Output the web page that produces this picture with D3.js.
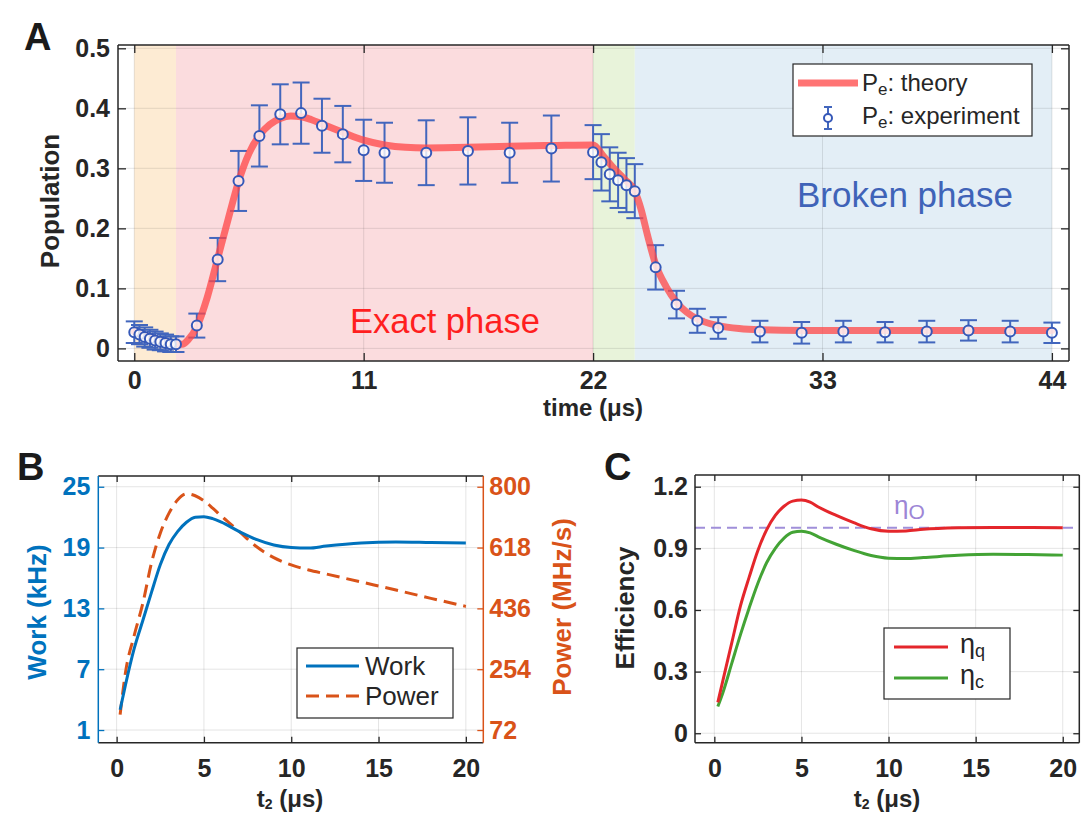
<!DOCTYPE html>
<html>
<head>
<meta charset="utf-8">
<style>
  body { margin: 0; background: #fff; }
  svg { display: block; font-family: "Liberation Sans", Arial, sans-serif; }
</style>
</head>
<body>
<svg id="fig" width="1081" height="814"></svg>
<script src="https://d3js.org/d3.v7.min.js"></script>
<script>
// ---------- data: panel A ----------
const phaseStart = [0, 2, 22, 24];
const phaseEnd = [2, 22, 24, 44];
const timeTicks = [0, 11, 22, 33, 44];
const popTicks = [0, 0.1, 0.2, 0.3, 0.4, 0.5];

const theoryT = [0, 0.5, 1, 1.5, 2, 2.3, 2.6, 3, 3.5, 4, 4.5, 5, 5.5, 6, 6.5, 7, 7.5, 8, 8.5, 9, 10, 11, 12, 13, 14, 16, 18, 20, 22,
  22.5, 23, 23.5, 24, 24.3, 24.6, 25, 25.5, 26, 26.5, 27, 28, 29, 30, 32, 36, 40, 44];
const theoryP = [0.028, 0.022, 0.016, 0.011, 0.007, 0.007, 0.015, 0.036, 0.085, 0.15, 0.215, 0.278, 0.325, 0.355, 0.373, 0.383, 0.387, 0.386, 0.381, 0.374, 0.36, 0.347, 0.339, 0.335, 0.334, 0.335, 0.337, 0.338, 0.339,
  0.32, 0.3, 0.282, 0.262, 0.232, 0.19, 0.14, 0.103, 0.077, 0.06, 0.049, 0.038, 0.033, 0.031, 0.03, 0.03, 0.03, 0.03];

const expT = [0, 0.25, 0.5, 0.75, 1, 1.25, 1.5, 1.75, 2, 3, 4, 5, 6, 7, 8, 9, 10, 11, 12, 14, 16, 18, 20,
  22, 22.4, 22.8, 23.2, 23.6, 24, 25, 26, 27, 28, 30, 32, 34, 36, 38, 40, 42, 44];
const expP = [0.027, 0.023, 0.019, 0.016, 0.013, 0.011, 0.009, 0.007, 0.007, 0.038, 0.148, 0.279, 0.354, 0.39, 0.392, 0.371, 0.357, 0.33, 0.326, 0.326, 0.329, 0.326, 0.333,
  0.327, 0.31, 0.29, 0.28, 0.272, 0.262, 0.135, 0.073, 0.046, 0.034, 0.028, 0.026, 0.028, 0.027, 0.028, 0.03, 0.028, 0.026];
const expErr = [0.018, 0.016, 0.016, 0.015, 0.015, 0.014, 0.014, 0.013, 0.013, 0.02, 0.036, 0.05, 0.051, 0.05, 0.051, 0.045, 0.047, 0.051, 0.05, 0.054, 0.056, 0.05, 0.055,
  0.045, 0.047, 0.045, 0.046, 0.045, 0.045, 0.037, 0.023, 0.02, 0.018, 0.018, 0.018, 0.018, 0.017, 0.018, 0.017, 0.018, 0.017];

// ---------- data: panel B ----------
const t2 = [0.2, 0.5, 1, 1.5, 2, 2.5, 3, 3.5, 4, 4.5, 5, 5.5, 6, 7, 8, 9, 10, 11, 12, 14, 16, 18, 20];
const work = [3.0, 5.4, 9.0, 11.8, 14.6, 17.3, 19.3, 20.6, 21.5, 22.0, 22.05, 21.85, 21.5, 20.6, 19.8, 19.25, 19.0, 18.95, 19.15, 19.45, 19.55, 19.5, 19.45];
const power = [118, 242, 354, 451, 573, 661, 721, 761, 779, 773, 758, 736, 712, 667, 621, 588, 566, 551, 539, 515, 491, 466, 442];
const t2Ticks = [0, 5, 10, 15, 20];
const workTicks = [1, 7, 13, 19, 25];
const powerTicks = [72, 254, 436, 618, 800];

// ---------- data: panel C ----------
const etaQ = [0.15, 0.26, 0.44, 0.62, 0.76, 0.89, 0.99, 1.06, 1.105, 1.13, 1.135, 1.125, 1.1, 1.06, 1.025, 0.995, 0.983, 0.985, 0.993, 1.0, 1.002, 1.001, 1.0];
const etaC = [0.13, 0.2, 0.34, 0.48, 0.61, 0.73, 0.83, 0.9, 0.95, 0.978, 0.983, 0.975, 0.955, 0.92, 0.89, 0.865, 0.852, 0.85, 0.855, 0.866, 0.871, 0.87, 0.867];
const etaO = 1.0;
const effTicks = [0, 0.3, 0.6, 0.9, 1.2];

// ---------- styles ----------
const phaseFill = ["#fdebd3", "#fbdcde", "#e8f3da", "#e3eef6"];
const axisInk = "#262626";
const blueW = "#0072bd", orangeP = "#d95319";
const theoryRed = "#ff4545";
const tickFont = 25, labelFont = 26;

const svg = d3.select("#fig");

function grid(g, x, y, xt, yt) {
  const [x0, x1] = x.range(), [y0, y1] = y.range();
  g.append("g").selectAll("line").data(xt).join("line")
    .attr("x1", d => x(d)).attr("x2", d => x(d)).attr("y1", y0).attr("y2", y1)
    .attr("stroke", axisInk).attr("stroke-opacity", 0.12).attr("stroke-width", 1);
  g.append("g").selectAll("line").data(yt).join("line")
    .attr("x1", x0).attr("x2", x1).attr("y1", d => y(d)).attr("y2", d => y(d))
    .attr("stroke", axisInk).attr("stroke-opacity", 0.12).attr("stroke-width", 1);
}

function styleAxis(sel, color, labels) {
  sel.select(".domain").remove();
  sel.attr("font-family", null).attr("font-size", null);
  sel.selectAll(".tick line").attr("stroke", color).attr("stroke-width", 1.3);
  sel.selectAll(".tick text")
    .attr("fill", color).attr("font-size", tickFont).attr("font-weight", "bold")
    .style("display", labels ? null : "none");
}

function axes(g, x, y, xt, yt, opt) {
  const [x0, x1] = x.range(), [yb, yt0] = y.range();
  const tl = opt.tick || 7;
  g.append("g").attr("transform", `translate(0,${yb})`)
    .call(d3.axisBottom(x).tickValues(xt).tickSize(-tl).tickPadding(opt.xpad).tickFormat(d3.format("")))
    .call(s => styleAxis(s, axisInk, true));
  g.append("g").attr("transform", `translate(0,${yt0})`)
    .call(d3.axisTop(x).tickValues(xt).tickSize(-tl))
    .call(s => styleAxis(s, axisInk, false));
  g.append("g").attr("transform", `translate(${x0},0)`)
    .call(d3.axisLeft(y).tickValues(yt).tickSize(-tl).tickPadding(opt.ypad).tickFormat(d3.format("")))
    .call(s => styleAxis(s, opt.leftColor || axisInk, true));
  if (!opt.noRight) {
    g.append("g").attr("transform", `translate(${x1},0)`)
      .call(d3.axisRight(y).tickValues(yt).tickSize(-tl))
      .call(s => styleAxis(s, axisInk, false));
  }
  // box
  const lw = 1.5;
  g.append("line").attr("x1", x0).attr("x2", x1).attr("y1", yt0).attr("y2", yt0).attr("stroke", axisInk).attr("stroke-width", lw);
  g.append("line").attr("x1", x0).attr("x2", x1).attr("y1", yb).attr("y2", yb).attr("stroke", axisInk).attr("stroke-width", lw);
  g.append("line").attr("x1", x0).attr("x2", x0).attr("y1", yt0).attr("y2", yb).attr("stroke", opt.leftColor || axisInk).attr("stroke-width", lw);
  g.append("line").attr("x1", x1).attr("x2", x1).attr("y1", yt0).attr("y2", yb).attr("stroke", opt.rightColor || axisInk).attr("stroke-width", lw);
}

function vlabel(g, x, y, color, txt) {
  g.append("text").attr("transform", `translate(${x},${y}) rotate(-90)`)
    .attr("text-anchor", "middle").attr("font-size", labelFont).attr("font-weight", "bold").attr("fill", color)
    .text(txt);
}

function t2label(g, x, y) {
  const t = g.append("text").attr("x", x).attr("y", y).attr("text-anchor", "middle")
    .attr("font-size", 24).attr("font-weight", "bold").attr("fill", axisInk);
  t.append("tspan").text("t");
  t.append("tspan").attr("font-size", 14).attr("dy", 2).text("2");
  t.append("tspan").attr("dy", -2).text(" (μs)");
}

function panelLetter(x, y, s) {
  svg.append("text").attr("x", x).attr("y", y).attr("font-size", 38).attr("font-weight", "bold")
    .attr("fill", "#1a1a1a").text(s);
}

// ================= Panel A =================
const xA = d3.scaleLinear().domain([-0.78, 44.82]).range([118, 1069]);
const yA = d3.scaleLinear().domain([-0.021, 0.5055]).range([361, 45]);
const gA = svg.append("g");

gA.append("g").selectAll("rect").data(phaseStart).join("rect")
  .attr("x", (d) => xA(d)).attr("width", (d, i) => xA(phaseEnd[i]) - xA(d))
  .attr("y", yA.range()[1]).attr("height", yA.range()[0] - yA.range()[1])
  .attr("fill", (d, i) => phaseFill[i]);

grid(gA, xA, yA, timeTicks, popTicks);

const expData = expT.map((t, i) => ({ t: t, p: expP[i], e: expErr[i] }));
const eb = gA.append("g").attr("stroke", "#4266bd").attr("stroke-width", 2);
eb.selectAll(".bar").data(expData).join("line").attr("class", "bar")
  .attr("x1", d => xA(d.t)).attr("x2", d => xA(d.t))
  .attr("y1", d => yA(d.p - d.e)).attr("y2", d => yA(d.p + d.e));
eb.selectAll(".capT").data(expData).join("line").attr("class", "capT")
  .attr("x1", d => xA(d.t) - 8.5).attr("x2", d => xA(d.t) + 8.5)
  .attr("y1", d => yA(d.p + d.e)).attr("y2", d => yA(d.p + d.e));
eb.selectAll(".capB").data(expData).join("line").attr("class", "capB")
  .attr("x1", d => xA(d.t) - 8.5).attr("x2", d => xA(d.t) + 8.5)
  .attr("y1", d => yA(d.p - d.e)).attr("y2", d => yA(d.p - d.e));

const theoryLine = d3.line().x(d => xA(d[0])).y(d => yA(d[1])).curve(d3.curveMonotoneX);
gA.append("path").datum(theoryT.map((t, i) => [t, theoryP[i]]))
  .attr("d", theoryLine).attr("fill", "none").attr("stroke", theoryRed)
  .attr("stroke-opacity", 0.75).attr("stroke-width", 7).attr("stroke-linecap", "round").attr("stroke-linejoin", "round");

gA.append("g").selectAll("circle").data(expData).join("circle")
  .attr("cx", d => xA(d.t)).attr("cy", d => yA(d.p)).attr("r", 5)
  .attr("fill", "#fff").attr("fill-opacity", 0.8).attr("stroke", "#3558b8").attr("stroke-width", 2);

gA.append("text").attr("x", 350).attr("y", 333).attr("font-size", 34.5).attr("fill", "#ff1f1f").text("Exact phase");
gA.append("text").attr("x", 797).attr("y", 207).attr("font-size", 35).attr("fill", "#3f63b8").text("Broken phase");

axes(gA, xA, yA, timeTicks, popTicks, { xpad: 10, ypad: 8, tick: 8 });
gA.append("text").attr("x", xA(22)).attr("y", 416).attr("text-anchor", "middle")
  .attr("font-size", 24).attr("font-weight", "bold").attr("fill", axisInk).text("time (μs)");
vlabel(gA, 59, 201, axisInk, "Population");

// legend A
const lgA = gA.append("g");
lgA.append("rect").attr("x", 793).attr("y", 64).attr("width", 239).attr("height", 72)
  .attr("fill", "#fff").attr("stroke", axisInk).attr("stroke-width", 1.2);
lgA.append("line").attr("x1", 798).attr("x2", 858).attr("y1", 83).attr("y2", 83)
  .attr("stroke", theoryRed).attr("stroke-opacity", 0.75).attr("stroke-width", 7);
lgA.append("line").attr("x1", 828).attr("x2", 828).attr("y1", 107).attr("y2", 129).attr("stroke", "#4266bd").attr("stroke-width", 2);
lgA.append("line").attr("x1", 824).attr("x2", 832).attr("y1", 107).attr("y2", 107).attr("stroke", "#4266bd").attr("stroke-width", 2);
lgA.append("line").attr("x1", 824).attr("x2", 832).attr("y1", 129).attr("y2", 129).attr("stroke", "#4266bd").attr("stroke-width", 2);
lgA.append("circle").attr("cx", 828).attr("cy", 118).attr("r", 4).attr("fill", "#fff").attr("stroke", "#3558b8").attr("stroke-width", 2);
[["theory", 91], ["experiment", 124]].forEach(([s, y]) => {
  const t = lgA.append("text").attr("x", 862).attr("y", y).attr("font-size", 24).attr("fill", axisInk);
  t.append("tspan").text("P");
  t.append("tspan").attr("font-size", 17).attr("dy", 4).text("e");
  t.append("tspan").attr("dy", -4).text(": " + s);
});

// ================= Panel B =================
const xB = d3.scaleLinear().domain([-1.05, 21.0]).range([98.3, 483.3]);
const yB = d3.scaleLinear().domain([-0.25, 26.06]).range([742.7, 476]);
const pB = d3.scaleLinear().domain([72 - 1.25 * 30.333, 72 + 25.06 * 30.333]).range([742.7, 476]);
const gB = svg.append("g");
grid(gB, xB, yB, t2Ticks, workTicks);

gB.append("path").datum(t2.map((t, i) => [t, power[i]]))
  .attr("d", d3.line().x(d => xB(d[0])).y(d => pB(d[1])).curve(d3.curveMonotoneX))
  .attr("fill", "none").attr("stroke", orangeP).attr("stroke-width", 3).attr("stroke-dasharray", "13,7");
gB.append("path").datum(t2.map((t, i) => [t, work[i]]))
  .attr("d", d3.line().x(d => xB(d[0])).y(d => yB(d[1])).curve(d3.curveMonotoneX))
  .attr("fill", "none").attr("stroke", blueW).attr("stroke-width", 3);

axes(gB, xB, yB, t2Ticks, workTicks, { xpad: 17, ypad: 8, tick: 6, leftColor: blueW, rightColor: orangeP, noRight: true });
gB.append("g").attr("transform", `translate(483.3,0)`)
  .call(d3.axisRight(pB).tickValues(powerTicks).tickSize(-6).tickPadding(6).tickFormat(d3.format("")))
  .call(s => styleAxis(s, orangeP, true));
vlabel(gB, 46, 612, blueW, "Work (kHz)");
vlabel(gB, 571, 607, orangeP, "Power (MHz/s)");
t2label(gB, 290, 807);

const lgB = gB.append("g");
lgB.append("rect").attr("x", 297).attr("y", 648).attr("width", 156).attr("height", 70)
  .attr("fill", "#fff").attr("stroke", axisInk).attr("stroke-width", 1.2);
lgB.append("line").attr("x1", 306).attr("x2", 359).attr("y1", 666).attr("y2", 666).attr("stroke", blueW).attr("stroke-width", 3);
lgB.append("line").attr("x1", 306).attr("x2", 359).attr("y1", 696).attr("y2", 696).attr("stroke", orangeP).attr("stroke-width", 3).attr("stroke-dasharray", "13,7");
lgB.append("text").attr("x", 365).attr("y", 675).attr("font-size", 26).attr("fill", axisInk).text("Work");
lgB.append("text").attr("x", 365).attr("y", 705).attr("font-size", 26).attr("fill", axisInk).text("Power");

// ================= Panel C =================
const xC = d3.scaleLinear().domain([-1.11, 20.95]).range([695, 1079.3]);
const yC = d3.scaleLinear().domain([-0.046, 1.257]).range([742.7, 475]);
const gC = svg.append("g");
grid(gC, xC, yC, t2Ticks, effTicks);

gC.append("line").attr("x1", xC.range()[0]).attr("x2", xC.range()[1]).attr("y1", yC(etaO)).attr("y2", yC(etaO))
  .attr("stroke", "#a08fd9").attr("stroke-width", 2).attr("stroke-dasharray", "10,6");
const effLine = d3.line().x(d => xC(d[0])).y(d => yC(d[1])).curve(d3.curveMonotoneX);
gC.append("path").datum(t2.map((t, i) => [t, etaC[i]])).attr("d", effLine)
  .attr("fill", "none").attr("stroke", "#43a335").attr("stroke-width", 3);
gC.append("path").datum(t2.map((t, i) => [t, etaQ[i]])).attr("d", effLine)
  .attr("fill", "none").attr("stroke", "#e4262b").attr("stroke-width", 3);

const etaOLabel = gC.append("text").attr("x", 894).attr("y", 514).attr("font-size", 26).attr("fill", "#9d86d6");
etaOLabel.append("tspan").text("η");
etaOLabel.append("tspan").attr("font-size", 21).attr("dy", 5).text("O");

axes(gC, xC, yC, t2Ticks, effTicks, { xpad: 17, ypad: 7, tick: 6 });
vlabel(gC, 634, 608, axisInk, "Efficiency");
t2label(gC, 887, 807);

const lgC = gC.append("g");
lgC.append("rect").attr("x", 884).attr("y", 628).attr("width", 126).attr("height", 71)
  .attr("fill", "#fff").attr("stroke", axisInk).attr("stroke-width", 1.2);
lgC.append("line").attr("x1", 894).attr("x2", 948).attr("y1", 647).attr("y2", 647).attr("stroke", "#e4262b").attr("stroke-width", 3);
lgC.append("line").attr("x1", 894).attr("x2", 948).attr("y1", 678).attr("y2", 678).attr("stroke", "#43a335").attr("stroke-width", 3);
[["q", 653], ["c", 684]].forEach(([s, y]) => {
  const t = lgC.append("text").attr("x", 960).attr("y", y).attr("font-size", 27).attr("fill", axisInk);
  t.append("tspan").text("η");
  t.append("tspan").attr("font-size", 18).attr("dy", 4).text(s);
});

panelLetter(24, 50, "A");
panelLetter(17, 480, "B");
panelLetter(604, 480, "C");
</script>
</body>
</html>
